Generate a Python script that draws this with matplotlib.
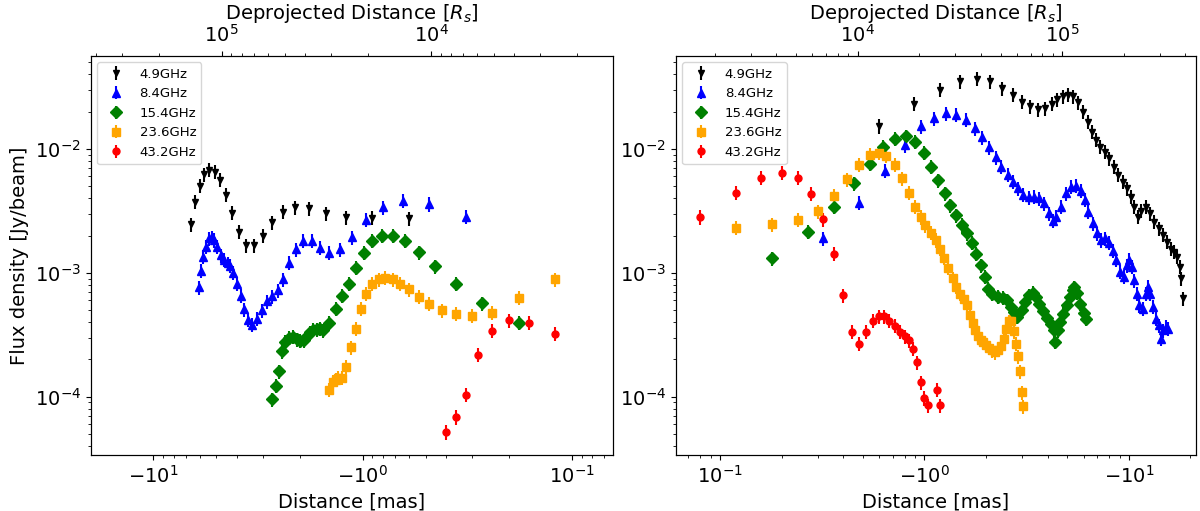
import numpy as np
import matplotlib
matplotlib.use('Agg')
import matplotlib.pyplot as plt
from matplotlib.ticker import FuncFormatter, NullFormatter

# frequencies / legend labels
labels = ['4.9GHz', '8.4GHz', '15.4GHz', '23.6GHz', '43.2GHz']
colors = ['black', 'blue', 'green', 'orange', 'red']
markers = ['v', '^', 'D', 's', 'o']
msizes = [4.5, 6, 6, 5.5, 5]

# left panel: distance [mas] (magnitude) and flux density [Jy/beam]
l49_d = [6.6, 6.3, 6.0, 5.7, 5.4, 5.1, 4.8, 4.5, 4.2, 3.9, 3.6, 3.3, 3.0, 2.7, 2.4, 2.1, 1.8, 1.5, 1.2, 0.9, 0.6]
l49_f = [2.46e-3, 3.75e-3, 5.05e-3, 6.24e-3, 6.76e-3, 6.56e-3, 5.62e-3, 4.27e-3, 3.06e-3, 2.15e-3, 1.67e-3,
         1.67e-3, 2.00e-3, 2.55e-3, 3.10e-3, 3.38e-3, 3.31e-3, 3.02e-3, 2.80e-3, 2.79e-3, 2.75e-3]

l84_d = [6.08, 5.91, 5.76, 5.59, 5.39, 5.23, 5.12, 4.94, 4.76, 4.59, 4.42, 4.31, 4.16, 3.99, 3.82, 3.67, 3.51,
         3.37, 3.19, 3.03, 2.87, 2.72, 2.55, 2.40, 2.24, 2.08, 1.92, 1.75, 1.60, 1.44, 1.28, 1.12, 0.96, 0.80,
         0.64, 0.48, 0.32]
l84_f = [7.62e-4, 1.04e-3, 1.35e-3, 1.62e-3, 1.90e-3, 1.93e-3, 1.84e-3, 1.62e-3, 1.39e-3, 1.27e-3, 1.19e-3,
         1.14e-3, 1.00e-3, 8.20e-4, 6.52e-4, 5.09e-4, 4.20e-4, 3.80e-4, 4.28e-4, 4.99e-4, 5.90e-4, 6.48e-4,
         7.25e-4, 8.89e-4, 1.21e-3, 1.55e-3, 1.82e-3, 1.81e-3, 1.60e-3, 1.45e-3, 1.55e-3, 1.93e-3, 2.67e-3,
         3.38e-3, 3.82e-3, 3.59e-3, 2.84e-3]

l154_d = [2.70, 2.60, 2.52, 2.43, 2.35, 2.26, 2.16, 2.07, 1.99, 1.90, 1.85, 1.79, 1.72, 1.66, 1.60, 1.54, 1.44,
          1.34, 1.25, 1.16, 1.08, 0.99, 0.90, 0.81, 0.72, 0.63, 0.54, 0.45, 0.36, 0.27, 0.18]
l154_f = [9.58e-5, 1.23e-4, 1.61e-4, 2.34e-4, 2.77e-4, 3.00e-4, 3.04e-4, 2.91e-4, 2.82e-4, 2.86e-4, 3.08e-4,
          3.32e-4, 3.48e-4, 3.49e-4, 3.55e-4, 3.44e-4, 3.97e-4, 5.15e-4, 6.52e-4, 8.20e-4, 1.10e-3, 1.45e-3,
          1.82e-3, 1.99e-3, 1.99e-3, 1.82e-3, 1.47e-3, 1.13e-3, 8.15e-4, 5.69e-4, 3.94e-4]

l236_d = [1.44, 1.38, 1.34, 1.31, 1.26, 1.20, 1.14, 1.08, 1.02, 0.96, 0.90, 0.84, 0.78, 0.72, 0.66, 0.60, 0.54,
          0.48, 0.42, 0.36, 0.30, 0.24, 0.18, 0.12]
l236_f = [1.14e-4, 1.32e-4, 1.37e-4, 1.42e-4, 1.42e-4, 1.74e-4, 2.51e-4, 3.55e-4, 5.15e-4, 6.81e-4, 8.20e-4,
          8.84e-4, 9.12e-4, 8.84e-4, 8.20e-4, 7.34e-4, 6.40e-4, 5.65e-4, 4.99e-4, 4.69e-4, 4.49e-4, 4.75e-4,
          6.28e-4, 8.84e-4]

l432_d = [0.40, 0.36, 0.32, 0.28, 0.24, 0.20, 0.16, 0.12]
l432_f = [5.19e-5, 6.86e-5, 1.04e-4, 2.19e-4, 3.40e-4, 4.15e-4, 3.97e-4, 3.23e-4]

# right panel
r49_d = [0.60, 0.89, 1.19, 1.49, 1.80, 2.09, 2.39, 2.70, 2.99, 3.29, 3.58, 3.88, 4.19, 4.45, 4.74, 5.05, 5.31,
         5.62, 5.94, 6.29, 6.58, 6.91, 7.25, 7.65, 8.03, 8.49, 8.89, 9.33, 9.80, 10.25, 10.64, 11.05, 11.48,
         12.14, 12.75, 13.34, 14.01, 14.66, 15.39, 15.98, 16.60, 17.23, 17.69, 18.03, 18.37]
r49_f = [1.53e-2, 2.31e-2, 3.00e-2, 3.50e-2, 3.68e-2, 3.50e-2, 3.09e-2, 2.73e-2, 2.41e-2, 2.20e-2, 2.09e-2,
         2.13e-2, 2.31e-2, 2.52e-2, 2.65e-2, 2.73e-2, 2.65e-2, 2.37e-2, 2.00e-2, 1.66e-2, 1.38e-2, 1.18e-2,
         1.04e-2, 9.51e-3, 8.40e-3, 7.20e-3, 6.16e-3, 5.44e-3, 4.81e-3, 4.12e-3, 3.42e-3, 2.84e-3, 3.17e-3,
         3.42e-3, 3.02e-3, 2.59e-3, 2.28e-3, 2.02e-3, 1.78e-3, 1.57e-3, 1.48e-3, 1.35e-3, 1.12e-3, 9.01e-4,
         6.21e-4]

r84_d = [0.32, 0.48, 0.64, 0.80, 0.96, 1.11, 1.28, 1.43, 1.59, 1.76, 1.91, 2.06, 2.23, 2.38, 2.55, 2.70, 2.87,
         3.05, 3.25, 3.44, 3.64, 3.86, 4.05, 4.24, 4.40, 4.65, 4.92, 5.21, 5.51, 5.83, 6.10, 6.33, 6.65, 6.99,
         7.31, 7.65, 8.03, 8.34, 8.66, 9.09, 9.44, 9.80, 10.06, 10.33, 10.64, 10.97, 11.26, 11.70, 12.14, 12.37,
         12.75, 13.09, 13.59, 14.11, 14.38, 14.66, 15.22, 15.51]
r84_f = [1.90e-3, 3.68e-3, 6.64e-3, 1.07e-2, 1.52e-2, 1.77e-2, 1.94e-2, 1.88e-2, 1.72e-2, 1.47e-2, 1.24e-2,
         1.03e-2, 8.56e-3, 7.20e-3, 6.16e-3, 5.44e-3, 4.81e-3, 4.25e-3, 4.07e-3, 4.12e-3, 3.99e-3, 3.64e-3,
         3.02e-3, 2.63e-3, 2.84e-3, 3.42e-3, 4.38e-3, 4.96e-3, 5.02e-3, 4.60e-3, 3.87e-3, 3.11e-3, 2.51e-3,
         2.08e-3, 1.84e-3, 1.90e-3, 1.75e-3, 1.51e-3, 1.28e-3, 1.02e-3, 9.29e-4, 1.15e-3, 1.27e-3, 1.12e-3,
         8.73e-4, 6.81e-4, 5.48e-4, 5.15e-4, 6.81e-4, 7.71e-4, 6.81e-4, 5.31e-4, 4.28e-4, 3.78e-4, 2.95e-4,
         3.44e-4, 3.66e-4, 3.55e-4]

r154_d = [0.18, 0.27, 0.36, 0.45, 0.54, 0.63, 0.72, 0.81, 0.90, 0.99, 1.08, 1.17, 1.26, 1.34, 1.43, 1.52, 1.61,
          1.70, 1.79, 1.89, 1.97, 2.05, 2.15, 2.28, 2.41, 2.53, 2.65, 2.75, 2.85, 2.99, 3.10, 3.25, 3.38, 3.51,
          3.64, 3.78, 3.97, 4.16, 4.32, 4.36, 4.48, 4.62, 4.78, 4.96, 5.15, 5.31, 5.41, 5.55, 5.77, 6.01, 6.17]
r154_f = [1.31e-3, 2.15e-3, 3.42e-3, 5.28e-3, 7.61e-3, 1.04e-2, 1.21e-2, 1.26e-2, 1.14e-2, 9.34e-3, 7.20e-3,
          5.58e-3, 4.38e-3, 3.50e-3, 2.91e-3, 2.43e-3, 2.08e-3, 1.75e-3, 1.43e-3, 1.15e-3, 9.29e-4, 7.47e-4,
          6.81e-4, 6.40e-4, 6.32e-4, 6.01e-4, 5.31e-4, 4.84e-4, 4.41e-4, 4.99e-4, 5.83e-4, 6.60e-4, 6.90e-4,
          6.40e-4, 5.65e-4, 4.93e-4, 4.36e-4, 3.90e-4, 3.44e-4, 2.77e-4, 3.44e-4, 4.02e-4, 4.69e-4, 5.48e-4,
          6.40e-4, 7.25e-4, 7.62e-4, 6.90e-4, 5.65e-4, 4.75e-4, 4.28e-4]

r236_d = [0.12, 0.18, 0.24, 0.30, 0.36, 0.42, 0.48, 0.54, 0.60, 0.65, 0.72, 0.78, 0.84, 0.90, 0.96, 1.01, 1.08,
          1.14, 1.19, 1.25, 1.31, 1.38, 1.43, 1.49, 1.56, 1.62, 1.67, 1.72, 1.77, 1.82, 1.88, 1.94, 2.00, 2.06,
          2.14, 2.22, 2.30, 2.37, 2.44, 2.51, 2.58, 2.66, 2.74, 2.80, 2.86, 2.93, 2.99, 3.04]
r236_f = [2.31e-3, 2.46e-3, 2.67e-3, 3.15e-3, 4.17e-3, 5.69e-3, 7.47e-3, 8.94e-3, 9.34e-3, 8.78e-3, 7.47e-3,
          5.79e-3, 4.44e-3, 3.42e-3, 2.82e-3, 2.41e-3, 2.11e-3, 1.84e-3, 1.57e-3, 1.32e-3, 1.10e-3, 9.06e-4,
          7.71e-4, 6.81e-4, 6.17e-4, 5.55e-4, 4.61e-4, 3.95e-4, 3.44e-4, 3.12e-4, 2.89e-4, 2.75e-4, 2.62e-4,
          2.49e-4, 2.37e-4, 2.28e-4, 2.40e-4, 2.59e-4, 2.93e-4, 3.53e-4, 4.07e-4, 4.12e-4, 3.38e-4, 2.69e-4,
          2.12e-4, 1.60e-4, 1.09e-4, 8.37e-5]

r432_d = [0.080, 0.120, 0.159, 0.200, 0.240, 0.279, 0.320, 0.359, 0.400, 0.440, 0.480, 0.519, 0.560, 0.599,
          0.634, 0.673, 0.717, 0.759, 0.800, 0.840, 0.879, 0.919, 0.958, 0.991, 1.037, 1.157, 1.192]
r432_f = [2.82e-3, 4.41e-3, 5.83e-3, 6.44e-3, 5.83e-3, 4.35e-3, 2.70e-3, 1.43e-3, 6.60e-4, 3.36e-4, 2.69e-4,
          3.36e-4, 4.12e-4, 4.47e-4, 4.47e-4, 4.12e-4, 3.75e-4, 3.36e-4, 3.08e-4, 2.86e-4, 2.45e-4, 1.90e-4,
          1.31e-4, 9.77e-5, 8.52e-5, 1.14e-4, 8.52e-5]

left_series = [(l49_d, l49_f), (l84_d, l84_f), (l154_d, l154_f), (l236_d, l236_f), (l432_d, l432_f)]
right_series = [(r49_d, r49_f), (r84_d, r84_f), (r154_d, r154_f), (r236_d, r236_f), (r432_d, r432_f)]

rel_err = 0.13  # fractional flux uncertainty
mas_to_rs = 2.12e4

tick_text = {10.0: r'$-10^{1}$', 1.0: r'$-10^{0}$', 0.1: r'$10^{-1}$'}


def dist_fmt(v, pos):
    for k, t in tick_text.items():
        if np.isclose(v, k):
            return t
    return ''


fig = plt.figure(figsize=(12, 5.11), dpi=100)
ax_l = fig.add_axes([0.0756, 0.1096, 0.4349, 0.7814])
ax_r = fig.add_axes([0.5632, 0.1096, 0.4335, 0.7814])

for ax, series, xlim in [(ax_l, left_series, (19.9, 0.064)), (ax_r, right_series, (0.0608, 21.3))]:
    for (d, f), lab, c, m, ms in zip(series, labels, colors, markers, msizes):
        f = np.array(f)
        ax.errorbar(d, f, yerr=rel_err * f, fmt=m, color=c, ms=ms, elinewidth=1.5, label=lab)
    ax.set_xscale('log')
    ax.set_yscale('log')
    ax.set_xlim(*xlim)
    ax.set_ylim(3.39e-5, 0.0565)
    ax.xaxis.set_major_formatter(FuncFormatter(dist_fmt))
    ax.xaxis.set_minor_formatter(NullFormatter())
    ax.tick_params(labelsize=14)
    ax.set_xlabel('Distance [mas]', fontsize=14)
    ax.legend(loc='upper left', fontsize=9.5)
    # deprojected distance on top, same log scale shifted by the conversion factor
    top = ax.twiny()
    top.set_xscale('log')
    top.set_xlim(xlim[0] * mas_to_rs, xlim[1] * mas_to_rs)
    top.xaxis.set_minor_formatter(NullFormatter())
    top.tick_params(labelsize=14)
    top.set_xlabel(r'Deprojected Distance [$R_s$]', fontsize=14)

ax_l.set_ylabel('Flux density [Jy/beam]', fontsize=14)

fig.savefig('out.png', dpi=100)
